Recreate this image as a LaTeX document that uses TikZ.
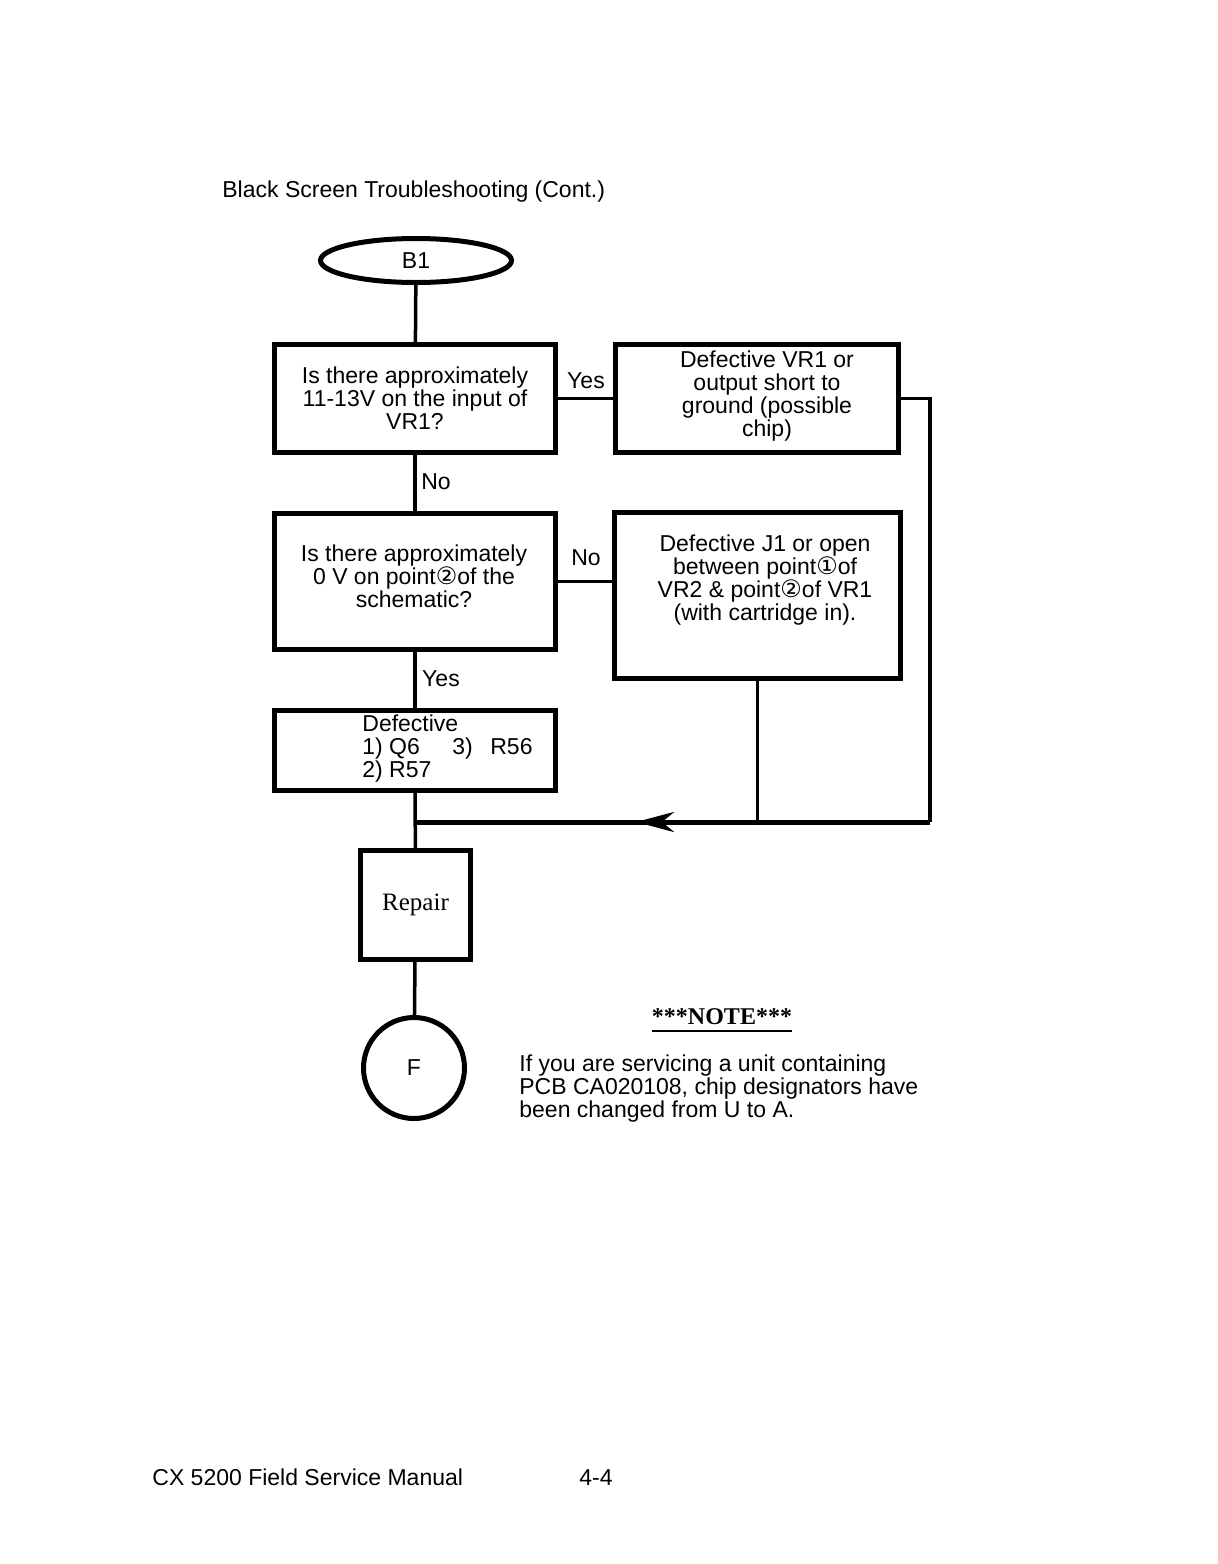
\documentclass[tikz,border=0pt]{standalone}
\usepackage{fontspec}
\setmainfont{Liberation Sans}
\newfontfamily\seriffont{Liberation Serif}
\newfontfamily\symfont{DejaVu Sans}
\newcommand{\circnum}[1]{{\symfont\fontsize{12}{11.5}\selectfont #1}}
\usetikzlibrary{arrows.meta,shapes.geometric}
\begin{document}
\begin{tikzpicture}[x=0.5pt,y=-0.5pt,
  box/.style={draw,line width=2.5pt,rectangle,inner sep=0pt},
  txt/.style={align=center,font=\fontsize{11.5}{11.5}\selectfont,inner sep=0pt},
  lbl/.style={font=\fontsize{11.5}{11.5}\selectfont,inner sep=0pt},
  conn/.style={line width=1.75pt},
  thickconn/.style={line width=2.5pt}]
\useasboundingbox (0,0) rectangle (1218,1564);
\fill[white] (0,0) rectangle (1218,1564);

% title
\node[lbl,anchor=base west] (title) at (222,197) {Black Screen Troubleshooting (Cont.)};

% start terminal
\node[draw,ellipse,line width=2.5pt,minimum width=95.5pt,minimum height=22pt,inner sep=0pt,
  font=\fontsize{11.5}{11.5}\selectfont] (b1) at (416,260.5) {B1};

% boxes
\node[box,txt,minimum width=140.5pt,minimum height=54pt] (q1) at (415,398.5)
  {Is there approximately\\11-13V on the input of\\VR1?};
\node[box,minimum width=141.5pt,minimum height=54pt] (d1) at (757,398.5) {};
\node[txt] (d1t) at (767,396) {Defective VR1 or\\output short to\\ground (possible\\chip)};

\node[box,minimum width=140.5pt,minimum height=68pt] (q2) at (415,581.5) {};
\node[txt] (q2t) at (414,576) {Is there approximately\\0 V on point\circnum{②}of the\\schematic?};

\node[box,minimum width=143pt,minimum height=83pt] (d2) at (757.5,595.5) {};
\node[txt] (d2t) at (765,580) {Defective J1 or open\\between point\circnum{①}of\\VR2 \& point\circnum{②}of VR1\\(with cartridge in).};

\node[box,minimum width=140.5pt,minimum height=40pt] (d3) at (415,750.5) {};
\node[txt,align=left,anchor=west] (d3t) at (362,749)
  {Defective\\\makebox[45pt][l]{1) Q6}\makebox[19pt][l]{3)}R56\\2) R57};

\node[box,minimum width=55pt,minimum height=54.5pt,font=\seriffont\fontsize{12.5}{12.5}\selectfont] (rep) at (415.5,905) {Repair};

\node[draw,circle,line width=2.5pt,minimum size=50.5pt,inner sep=0pt,
  font=\fontsize{11.5}{11.5}\selectfont] (F) at (414,1068) {F};

% coordinates for loop
\coordinate (c1) at (930,822);
\coordinate (m) at (415,822);
\coordinate (tip) at (636,822);

% connectors
\draw[conn] (b1) -- (q1);
\draw[conn] (q1) -- (d1);
\draw[conn] (q1) -- (q2);
\draw[conn] (q2.east) -- (q2.east -| d2.west);
\draw[conn] (q2) -- (d3);
\draw[conn] (d3) -- (rep);
\draw[conn] (rep) -- (F);
\draw[conn] (d1.east) -| (c1);
\draw[conn] (d2.south) -- (d2.south |- m);
\draw[thickconn] (c1) -- (m);
\draw[thickconn,-{Stealth[length=19pt,width=10pt,inset=6pt]}] (c1) -- (tip);

% labels
\node[lbl] (yes1) at (586,381) {Yes};
\node[lbl] (no1) at (436,482) {No};
\node[lbl] (no2) at (586,558) {No};
\node[lbl] (yes2) at (441,679) {Yes};

% note
\node[inner sep=0pt,font=\seriffont\bfseries\fontsize{12}{12}\selectfont] (nt) at (722,1017) {***NOTE***};
\draw[line width=1pt] ([yshift=-3pt]nt.base west) -- ([yshift=-3pt]nt.base east);
\node[txt,align=left,anchor=north west] (ntext) at (519,1054)
  {If you are servicing a unit containing\\PCB CA020108, chip designators have\\been changed from U to A.};

% footer
\node[lbl,anchor=base west] (foot) at (152,1485) {CX 5200 Field Service Manual};
\node[lbl,anchor=base west] (page) at (579,1485) {4-4};
\end{tikzpicture}
\end{document}
